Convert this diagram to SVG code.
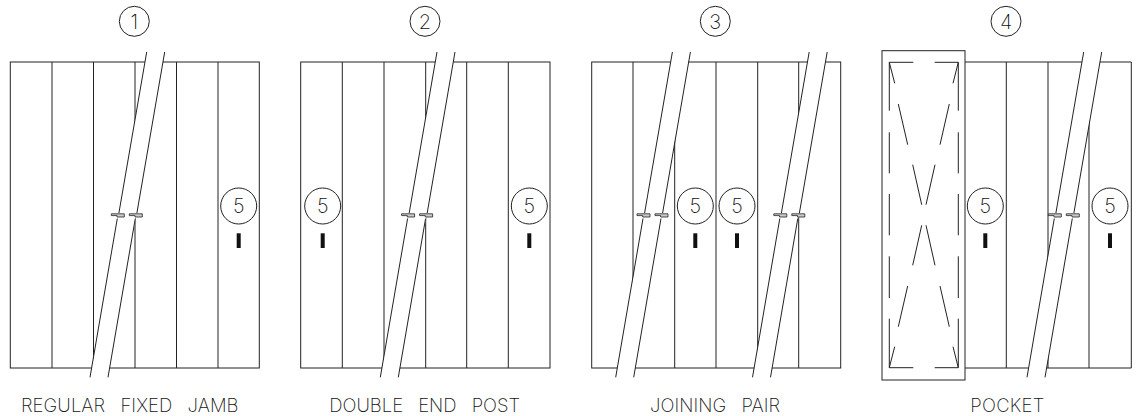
<svg xmlns="http://www.w3.org/2000/svg" width="1136" height="416" viewBox="0 0 1136 416">
<style>
.l{fill:none;stroke:#222;stroke-width:1}
.k{fill:#ccc;stroke:#222;stroke-width:.8}
.c{fill:#fff;stroke:#222;stroke-width:1}
.m{fill:#111;stroke:none}
.d{font-family:"Inter","Liberation Sans",sans-serif;font-weight:200;font-size:20px;fill:#111;text-anchor:middle}
.t{font-family:"Inter","Liberation Sans",sans-serif;font-weight:200;font-size:18.5px;fill:#111;word-spacing:10px}
</style>
<defs>
<g id="band">
<polygon points="146.7,52 164.7,52 108,377.3 90,377.3" fill="#fff"/>
<path class="l" d="M146.7 52L118.9 213M117.3 218.5L90 377.3M164.7 52L136.9 213M135.3 218.5L108 377.3"/>
<path class="k" d="M111.3 213.8H124.3V217H117V215.6H111.3ZM129.3 213.8H142.3V217H135V215.6H129.3Z"/>
</g>
<g id="five">
<circle class="c" r="18"/>
<text class="d" y="7.3">5</text>
<rect class="m" x="-2" y="27.3" width="4" height="14.7"/>
</g>
</defs>
<g id="panel-1">
<rect class="l" x="10.3" y="62" width="249" height="306"/>
<path class="l" d="M52 62V368M93.5 62V368M135 62V368M176.5 62V368M218 62V368"/>
<use href="#band"/>
<use href="#five" x="238.7" y="206"/>
<circle class="c" cx="134.3" cy="21.3" r="15"/>
<text class="d" x="134.3" y="28.5">1</text>
<text class="t" x="21" y="411.5" textLength="217.5">REGULAR FIXED JAMB</text>
</g>
<g id="panel-2">
<rect class="l" x="300.7" y="62" width="249.3" height="306"/>
<path class="l" d="M342.3 62V368M384 62V368M425.7 62V368M466.7 62V368M508.3 62V368"/>
<use href="#band" x="290.3"/>
<use href="#five" x="322.7" y="206"/>
<use href="#five" x="529.3" y="206"/>
<circle class="c" cx="425" cy="21.3" r="15"/>
<text class="d" x="425" y="28.5">2</text>
<text class="t" x="329.3" y="411.5" textLength="190.7">DOUBLE END POST</text>
</g>
<g id="panel-3">
<rect class="l" x="591.7" y="62" width="249" height="306"/>
<path class="l" d="M633 62V368M674.7 62V368M716 62V368M757.7 62V368M798.7 62V368"/>
<use href="#band" x="525.7"/>
<use href="#band" x="662.5"/>
<use href="#five" x="695.3" y="206"/>
<use href="#five" x="737" y="206"/>
<circle class="c" cx="715.3" cy="21.3" r="15"/>
<text class="d" x="715.3" y="28.5">3</text>
<text class="t" x="650" y="411.5" textLength="130">JOINING PAIR</text>
</g>
<g id="panel-4">
<path class="l" d="M965 62H1131.3V368H965M1006.3 62V368M1048 62V368M1089 62V368"/>
<use href="#band" x="937"/>
<rect class="l" x="882" y="50.7" width="83" height="329.3"/>
<path class="l" d="M889.3 62.3H913.3M934.7 62.3H958.3M889.3 367.7H913.3M934.7 367.7H958.3"/>
<path class="l" d="M889.3 62.3V110.7M889.3 132.3V173.3M889.3 194V235.3M889.3 256.3V298M889.3 318.7V367.7"/>
<path class="l" d="M958.3 62.3V110.7M958.3 132.3V173.3M958.3 194V235.3M958.3 256.3V298M958.3 318.7V367.7"/>
<path class="l" d="M889.3 62.3L894.7 83.3M898.3 104L907.7 144.7M912.7 164.7L921.7 204.7M921.7 225.3L912.7 265.3M907.7 286L898.3 326.7M894.7 346.7L889.3 367.7"/>
<path class="l" d="M958.3 62.3L953 83.3M949.3 104L940 144.7M935 164.7L926 204.7M926 225.3L935 265.3M940 286L949.3 326.7M953 346.7L958.3 367.7"/>
<use href="#five" x="985.3" y="206"/>
<use href="#five" x="1110" y="206"/>
<circle class="c" cx="1006" cy="21.3" r="15"/>
<text class="d" x="1006" y="28.5">4</text>
<text class="t" x="970.3" y="411.5" textLength="74">POCKET</text>
</g>
</svg>
